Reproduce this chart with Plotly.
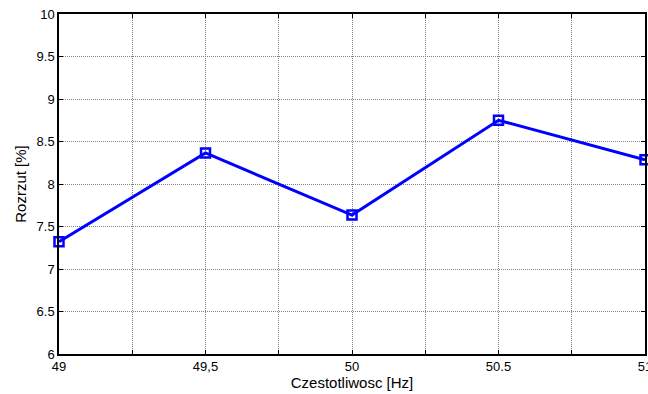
import plotly.graph_objects as go

freq = [49, 49.5, 50, 50.5, 51]
rozrzut = [7.32, 8.365, 7.635, 8.75, 8.285]
x_tickvals = [49, 49.25, 49.5, 49.75, 50, 50.25, 50.5, 50.75, 51]
x_ticktext = ["49", "", "49,5", "", "50", "", "50.5", "", "51"]
y_tickvals = [6, 6.5, 7, 7.5, 8, 8.5, 9, 9.5, 10]
y_ticktext = ["6", "6.5", "7", "7.5", "8", "8.5", "9", "9.5", "10"]

FONT = "Liberation Sans, Arial, sans-serif"

fig = go.Figure()
fig.add_trace(go.Scatter(
    x=freq, y=rozrzut, mode="lines+markers",
    line=dict(color="#0000ff", width=3),
    marker=dict(symbol="square-open", size=9, color="#0000ff", line=dict(width=2.5, color="#0000ff")),
    cliponaxis=False, showlegend=False,
))

axis_common = dict(
    showline=True, linecolor="black", linewidth=1.5, mirror="allticks",
    ticks="inside", ticklen=4, tickcolor="black",
    showgrid=True, gridcolor="#808080", griddash="1px,1px", gridwidth=1,
    zeroline=False, tickfont=dict(family=FONT, size=13, color="black"),
    ticklabeloverflow="allow", automargin=False,
)

fig.update_xaxes(range=[49, 51], tickmode="array", tickvals=x_tickvals, ticktext=x_ticktext,
                 title=dict(text="Czestotliwosc [Hz]", font=dict(family=FONT, size=15, color="black"), standoff=2),
                 **axis_common)
fig.update_yaxes(range=[6, 10], tickmode="array", tickvals=y_tickvals, ticktext=y_ticktext,
                 title=dict(text="Rozrzut [%]", font=dict(family=FONT, size=15, color="black"), standoff=6),
                 **axis_common)

fig.update_layout(
    width=648, height=394,
    margin=dict(l=59, r=3, t=14, b=40),
    plot_bgcolor="white", paper_bgcolor="white",
)
fig.write_html("out.html")
